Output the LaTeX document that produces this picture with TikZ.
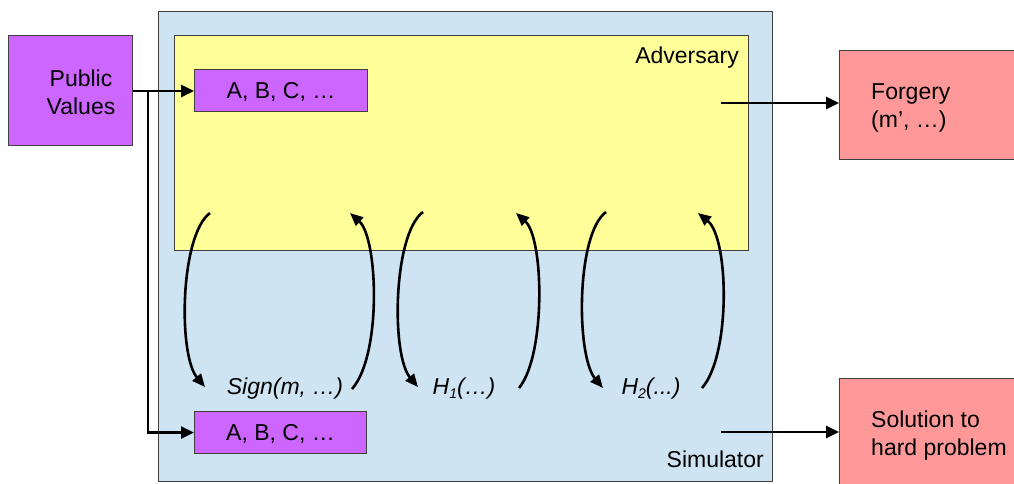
\documentclass[tikz,border=0pt]{standalone}
\usepackage{fontspec}
\setmainfont{Liberation Sans}
\usetikzlibrary{arrows.meta}

\definecolor{simfill}{HTML}{CFE4F2}
\definecolor{advfill}{HTML}{FFFF99}
\definecolor{valfill}{HTML}{CC66FF}
\definecolor{outfill}{HTML}{FF9999}
\definecolor{edge}{HTML}{404040}

\newcommand{\lowsub}[1]{\raisebox{-0.35ex}{\fontsize{14}{14}\selectfont #1}}

\begin{document}
\begin{tikzpicture}[x=1pt, y=-1pt,
  font=\fontsize{23}{28}\selectfont,
  panel/.style={draw=edge, line width=1.1pt, inner sep=0pt, anchor=north west},
  label/.style={inner sep=0pt, anchor=base},
  flow/.style={line width=2.7pt, -{Triangle[length=13pt, width=12pt]}},
  query/.style={line width=2.6pt, -{Triangle[length=13pt, width=11pt]}}]
\useasboundingbox (0,0) rectangle (1014,483);

% the simulator and the adversary it runs
\node[panel, fill=simfill, minimum width=614pt, minimum height=470pt] (sim) at (158,11) {};
\node[panel, fill=advfill, minimum width=574pt, minimum height=215pt] (adv) at (174,35) {};
\node[label, anchor=base east] (advname) at (739,63) {Adversary};
\node[label, anchor=base east] (simname) at (764,467) {Simulator};

% public values and the two copies handed out
\node[panel, fill=valfill, minimum width=124pt, minimum height=110pt] (pv) at (8,35) {};
\node[inner sep=0pt, align=center] (pvtext) at (81,92) {Public\\Values};
\node[panel, fill=valfill, minimum width=173pt, minimum height=42pt] (abcA) at (194,69) {};
\node[label] at (abcA.center) [yshift=-8pt] {A, B, C, \dots};
\node[panel, fill=valfill, minimum width=172pt, minimum height=42pt] (abcS) at (194,411) {};
\node[label] at (abcS.center) [yshift=-8pt] {A, B, C, \dots};

% outcomes
\node[panel, fill=outfill, minimum width=190pt, minimum height=109pt] (forge) at (839,50) {};
\node[inner sep=0pt, align=left, anchor=west] (forgetext) at (871,108) {Forgery\\(m’, \dots)};
\node[panel, fill=outfill, minimum width=190pt, minimum height=120pt] (sol) at (839,378) {};
\node[inner sep=0pt, align=left, anchor=west] (soltext) at (871,436) {Solution to\\hard problem};

% oracle labels
\node[label] (sign) at (285,394) {\itshape Sign(m, \dots)};
\node[label] (hone) at (464,394) {\itshape H\lowsub{1}(\dots)};
\node[label] (htwo) at (651,394) {\itshape H\lowsub{2}(...)};

% wiring of the public values
\coordinate (split) at (148,91);
\draw[flow] (pv.east |- split) -- (abcA.west |- split);
\draw[flow] (split) |- (abcS.west);

% outputs
\coordinate (fout) at (721,103);
\coordinate (sout) at (721,432);
\draw[flow] (fout) -- (fout -| forge.west);
\draw[flow] (sout) -- (sout -| sol.west);

% oracle query / answer loops
\coordinate (q1) at (210,213);  \coordinate (a1) at (205,387);
\coordinate (r1) at (352,389);  \coordinate (b1) at (350,213);
\coordinate (q2) at (423,212);  \coordinate (a2) at (418,387);
\coordinate (r2) at (519,388);  \coordinate (b2) at (516,213);
\coordinate (q3) at (606,212);  \coordinate (a3) at (603,388);
\coordinate (r3) at (702,388);  \coordinate (b3) at (698,213);

\draw[query] (q1) .. controls (180,235) and (178,355) .. (a1);
\draw[query] (r1) .. controls (382,355) and (378,238) .. (b1);
\draw[query] (q2) .. controls (393,234) and (391,355) .. (a2);
\draw[query] (r2) .. controls (546,355) and (544,238) .. (b2);
\draw[query] (q3) .. controls (576,234) and (576,356) .. (a3);
\draw[query] (r3) .. controls (731,355) and (729,238) .. (b3);
\end{tikzpicture}
\end{document}
